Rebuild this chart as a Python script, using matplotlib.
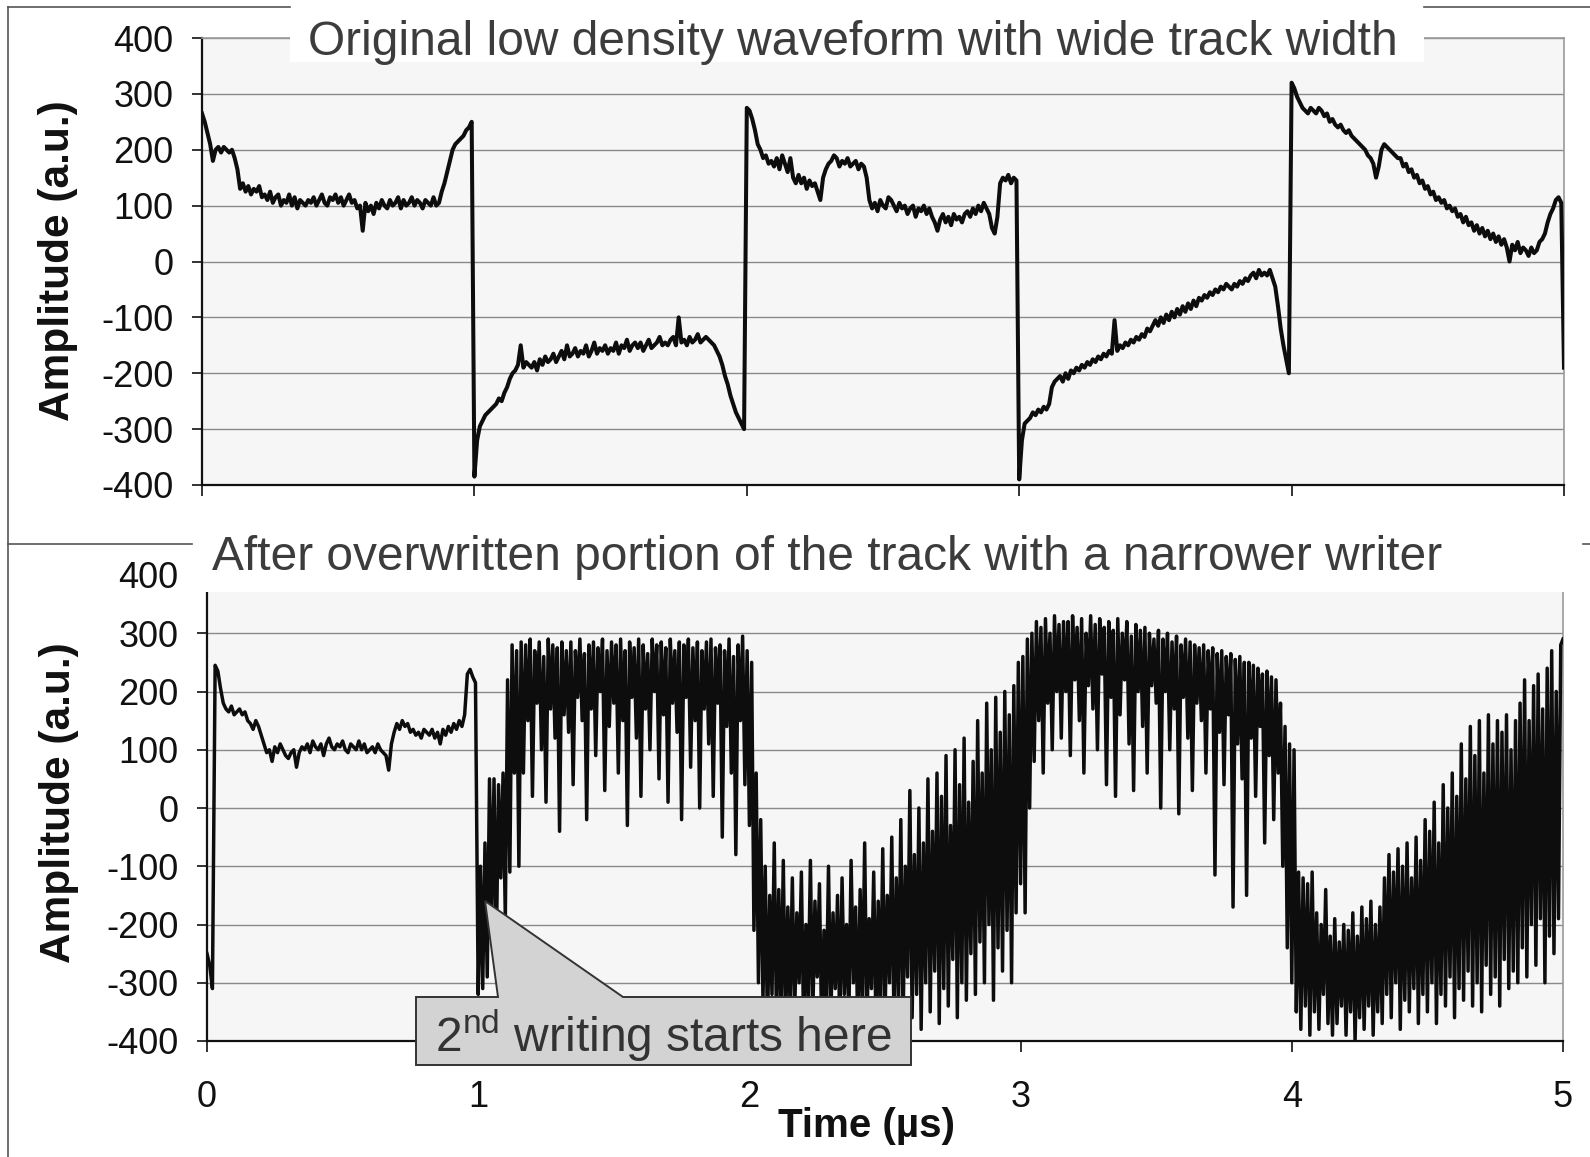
import numpy as np
import matplotlib
matplotlib.use("Agg")
import matplotlib.pyplot as plt
from matplotlib.patches import Rectangle, Polygon
from matplotlib.lines import Line2D

# ---------------- data ----------------
top_title = "Original low density waveform with wide track width"
bottom_title = "After overwritten portion of the track with a narrower writer"
callout_text = r"2$^{\mathrm{nd}}$ writing starts here"
y_label = "Amplitude (a.u.)"
x_label = "Time (\u00b5s)"
y_ticks = [-400, -300, -200, -100, 0, 100, 200, 300, 400]
y_tick_labels = ["-400", "-300", "-200", "-100", "0", "100", "200", "300", "400"]
x_ticks = [0, 1, 2, 3, 4, 5]
x_tick_labels = ["0", "1", "2", "3", "4", "5"]

# original waveform, sampled every 0.01 us from 0 to 5 us
top_wave = [
    265, 250, 230, 210, 180, 200, 205, 195, 205, 200,
    195, 200, 185, 165, 130, 140, 125, 135, 120, 130,
    125, 135, 115, 120, 110, 125, 105, 115, 120, 100,
    110, 105, 120, 100, 115, 95, 110, 105, 100, 110,
    105, 115, 100, 110, 120, 105, 100, 115, 110, 120,
    105, 115, 100, 110, 120, 105, 110, 95, 100, 55,
    105, 90, 100, 85, 105, 95, 110, 100, 95, 110,
    100, 105, 115, 95, 110, 100, 105, 115, 100, 110,
    105, 95, 110, 105, 100, 115, 100, 105, 125, 140,
    160, 180, 200, 210, 215, 220, 225, 235, 240, 250,
    -385, -320, -295, -285, -275, -270, -265, -260, -255, -245,
    -250, -235, -225, -210, -200, -195, -185, -150, -190, -180,
    -185, -190, -180, -195, -175, -185, -170, -180, -175, -165,
    -180, -170, -160, -175, -150, -170, -165, -155, -170, -160,
    -165, -150, -170, -160, -145, -165, -155, -160, -150, -165,
    -155, -160, -145, -165, -150, -155, -140, -160, -150, -145,
    -155, -145, -160, -150, -140, -155, -150, -145, -135, -150,
    -145, -150, -140, -135, -150, -100, -145, -140, -150, -135,
    -145, -140, -130, -145, -140, -135, -140, -145, -150, -160,
    -170, -185, -205, -220, -240, -255, -270, -280, -290, -300,
    275, 270, 255, 235, 210, 200, 185, 190, 175, 180,
    170, 185, 165, 190, 175, 160, 185, 150, 140, 155,
    140, 150, 130, 145, 135, 140, 125, 110, 150, 165,
    175, 180, 190, 185, 170, 180, 175, 185, 170, 175,
    180, 165, 175, 170, 150, 110, 95, 105, 90, 110,
    100, 95, 115, 110, 100, 90, 105, 95, 100, 85,
    95, 100, 80, 95, 90, 100, 85, 95, 80, 70,
    55, 75, 85, 70, 80, 65, 85, 75, 80, 70,
    85, 90, 80, 95, 85, 100, 90, 105, 95, 85,
    60, 50, 80, 140, 150, 145, 155, 140, 150, 145,
    -390, -320, -290, -285, -280, -270, -275, -265, -270, -260,
    -265, -255, -225, -215, -210, -205, -215, -200, -210, -195,
    -200, -190, -195, -185, -190, -180, -185, -175, -180, -170,
    -175, -165, -170, -160, -165, -105, -160, -150, -155, -145,
    -150, -140, -145, -135, -140, -130, -135, -120, -125, -115,
    -105, -115, -100, -110, -95, -105, -90, -100, -85, -95,
    -80, -90, -75, -85, -70, -80, -65, -70, -60, -65,
    -55, -60, -50, -55, -45, -50, -40, -45, -50, -40,
    -45, -35, -40, -30, -35, -25, -20, -30, -15, -25,
    -20, -25, -15, -30, -45, -80, -120, -150, -175, -200,
    320, 310, 295, 285, 275, 270, 265, 275, 270, 265,
    275, 270, 260, 265, 250, 255, 245, 240, 245, 235,
    230, 235, 225, 220, 215, 210, 205, 200, 190, 185,
    175, 150, 170, 200, 210, 205, 200, 195, 190, 185,
    185, 170, 175, 160, 165, 150, 155, 140, 145, 130,
    135, 120, 125, 110, 115, 105, 110, 95, 100, 90,
    95, 80, 85, 70, 80, 65, 70, 55, 65, 50,
    60, 45, 55, 40, 50, 35, 45, 30, 40, 25,
    0, 30, 20, 35, 15, 25, 20, 10, 25, 15,
    20, 35, 40, 50, 70, 85, 95, 110, 115, 105,
    -190,
]

# overwritten track: untouched part, every 0.01 us from 0 to 0.99 us
bottom_early = [
    -250, -270, -310, 245, 235, 205, 180, 170, 165, 175,
    160, 165, 170, 160, 165, 150, 145, 135, 150, 140,
    125, 110, 95, 100, 80, 105, 95, 110, 100, 90,
    85, 95, 100, 70, 95, 105, 100, 110, 95, 115,
    105, 100, 110, 90, 110, 120, 105, 100, 110, 105,
    115, 100, 95, 110, 105, 100, 115, 100, 110, 95,
    100, 105, 95, 110, 100, 95, 90, 65, 110, 130,
    145, 135, 150, 140, 145, 130, 135, 125, 130, 120,
    135, 130, 125, 135, 120, 130, 110, 135, 125, 140,
    130, 145, 135, 150, 140, 160, 230, 238, 225, 215,
]

# overwritten track: second writing, every 1/120 us from 1 to 5 us
bottom_written = [
    -320, -100, -310, -60, -290, 50, -180, 50, -250, 40, -120, 60, -190, 220, -110, 280, 60, 270, -100, 285,
    60, 280, 150, 290, 20, 270, 180, 285, 100, 260, 10, 290, 170, 280, 120, 275, -40, 285, 160, 270,
    130, 285, 40, 270, 190, 290, 150, 265, -20, 280, 170, 285, 90, 275, 200, 290, 30, 270, 140, 285,
    180, 280, 60, 290, 150, 270, -30, 285, 190, 275, 120, 290, 20, 280, 170, 265, 100, 290, 200, 280,
    50, 285, 160, 275, 10, 290, 180, 270, 130, 285, -20, 280, 190, 290, 70, 275, 150, 285, 0, 270,
    170, 285, 110, 290, 20, 275, 180, 280, -50, 270, 140, 290, 60, 260, -80, 280, 150, 295, 40, 270,
    -30, 250, -210, 60, -300, -20, -330, -100, -380, -150, -320, -60, -370, -140, -350, -90, -380, -170, -340, -120,
    -360, -180, -300, -110, -380, -200, -330, -90, -370, -160, -290, -130, -390, -210, -340, -100, -370, -180, -310, -150,
    -380, -120, -320, -200, -360, -90, -300, -170, -390, -140, -340, -60, -370, -190, -310, -110, -380, -160, -350, -70,
    -360, -150, -300, -50, -380, -120, -330, -20, -370, -100, -290, 30, -360, -80, -320, 0, -380, -60, -300, 50,
    -350, -40, -280, 60, -370, 20, -310, 90, -340, -30, -260, 100, -360, 40, -300, 120, -330, 10, -250, 80,
    -320, 150, -230, 60, -300, 180, -200, 100, -330, 190, -240, 130, -280, 200, -210, 160, -300, 210, -180, 250,
    -130, 260, -180, 290, 0, 300, 80, 320, 150, 310, 60, 325, 180, 300, 100, 330, 200, 315, 120, 320,
    200, 320, 90, 330, 220, 310, 150, 325, 60, 300, 210, 330, 170, 315, 100, 325, 230, 310, 40, 320,
    190, 305, 20, 325, 160, 300, 220, 320, 110, 295, 30, 315, 200, 305, 140, 310, 60, 300, 210, 290,
    180, 305, 0, 290, 200, 300, 100, 285, 170, 295, -10, 280, 190, 290, 120, 285, 30, 280, 180, 275,
    150, 280, 60, 270, 170, 275, -115, 265, 130, 270, 40, 260, 160, 265, -170, 255, 110, 260, 50, 250,
    -150, 250, 120, 245, 20, 240, 140, 230, -60, 235, 90, 225, -20, 220, 60, 180, -100, 140, -240, 110,
    -300, 100, -350, -110, -380, -120, -340, -130, -390, -110, -350, -180, -380, -200, -320, -140, -370, -220, -390, -190,
    -370, -230, -340, -200, -390, -210, -350, -180, -400, -220, -360, -170, -380, -190, -340, -160, -390, -200, -350, -170,
    -370, -120, -320, -80, -360, -110, -300, -70, -380, -100, -330, -60, -350, -120, -310, -50, -370, -90, -320, -20,
    -350, -40, -300, 10, -370, -60, -320, 40, -340, 0, -290, 60, -360, 20, -310, 110, -330, 50, -280, 140,
    -340, 90, -300, 150, -350, 60, -270, 160, -320, 110, -290, 150, -340, 130, -260, 160, -310, 100, -280, 150,
    -300, 180, -240, 220, -290, 150, -200, 210, -270, 230, -190, 170, -300, 240, -220, 270, -250, 200, -190, 280,
    290,
]

# ---------------- figure ----------------
plt.rcParams["font.family"] = ["Liberation Sans", "DejaVu Sans"]
plt.rcParams["mathtext.fontset"] = "custom"
plt.rcParams["mathtext.rm"] = "Liberation Sans"
plt.rcParams["axes.unicode_minus"] = False

W, H = 1590, 1157
fig = plt.figure(figsize=(W / 100, H / 100), dpi=100)


def fx(px):
    return px / W


def fy(py):
    return 1 - py / H


ax1 = fig.add_axes([fx(202), fy(485), fx(1564) - fx(202), fy(38) - fy(485)])
ax2 = fig.add_axes([fx(207), fy(1041), fx(1563) - fx(207), fy(575) - fy(1041)])

for ax in (ax1, ax2):
    ax.set_xlim(0, 5)
    ax.set_ylim(-400, 400)
    ax.set_facecolor("#f6f6f6")
    ax.set_yticks(y_ticks)
    ax.set_yticklabels(y_tick_labels)
    ax.set_xticks(x_ticks)
    ax.grid(axis="y", color="#8a8a8a", lw=1.0)
    ax.set_axisbelow(True)
    for s in ("top", "right"):
        ax.spines[s].set_color("#9a9a9a")
        ax.spines[s].set_linewidth(1.2)
    for s in ("left", "bottom"):
        ax.spines[s].set_color("#111111")
        ax.spines[s].set_linewidth(1.6)
    ax.tick_params(axis="y", length=7.5, width=1.2, pad=13, labelsize=26,
                   direction="out", colors="#111111")
    ax.tick_params(axis="x", length=8, width=1.2, pad=20, labelsize=26,
                   direction="out", colors="#111111")

ax1.set_xticklabels([])
ax2.set_xticklabels(x_tick_labels)

t_top = np.linspace(0, 5, len(top_wave))
ax1.plot(t_top, top_wave, color="#0d0d0d", lw=2.9, zorder=3,
         solid_joinstyle="round")

t_early = np.linspace(0, 0.99, len(bottom_early))
t_written = np.linspace(1.0, 5.0, len(bottom_written))
ax2.plot(np.concatenate([t_early, t_written]),
         np.concatenate([bottom_early, bottom_written]),
         color="#0d0d0d", lw=2.5, zorder=3, solid_joinstyle="round")

# white title backgrounds covering the plot top
fig.add_artist(Rectangle((fx(290), fy(62)), fx(1424) - fx(290), fy(0) - fy(62),
                         transform=fig.transFigure, facecolor="white",
                         edgecolor="none", zorder=5))
fig.add_artist(Rectangle((fx(192), fy(592)), fx(1583) - fx(192), fy(538) - fy(592),
                         transform=fig.transFigure, facecolor="white",
                         edgecolor="none", zorder=5))

# chart frames
frame_kw = dict(transform=fig.transFigure, color="#555555", lw=1.2, zorder=6)
fig.add_artist(Line2D([fx(8), fx(290)], [fy(7), fy(7)], **frame_kw))
fig.add_artist(Line2D([fx(1424), 1], [fy(7), fy(7)], **frame_kw))
fig.add_artist(Line2D([fx(8), fx(8)], [fy(7), 0], **frame_kw))
fig.add_artist(Line2D([fx(8), fx(192)], [fy(544), fy(544)], **frame_kw))
fig.add_artist(Line2D([fx(1583), 1], [fy(544), fy(544)], **frame_kw))

# titles
fig.text(fx(853), fy(55), top_title, ha="center", va="baseline",
         fontsize=34.5, color="#3c3c3c", zorder=7)
fig.text(fx(827), fy(570), bottom_title, ha="center", va="baseline",
         fontsize=34.5, color="#3c3c3c", zorder=7)

# axis labels
fig.text(fx(58), fy(261), y_label, rotation=90, ha="center", va="center",
         fontsize=30.5, fontweight="bold", color="#111111")
fig.text(fx(59), fy(803), y_label, rotation=90, ha="center", va="center",
         fontsize=30.5, fontweight="bold", color="#111111")
fig.text(fx(867), fy(1137), x_label, ha="center", va="baseline",
         fontsize=29, fontweight="bold", color="#111111")

# callout
callout_px = [(416, 997), (498, 997), (485, 901), (623, 997), (911, 997),
              (911, 1065), (416, 1065)]
fig.add_artist(Polygon([(fx(x), fy(y)) for x, y in callout_px], closed=True,
                       transform=fig.transFigure, facecolor="#d3d3d3",
                       edgecolor="#333333", lw=1.4, zorder=8))
fig.text(fx(663), fy(1052), callout_text, ha="center", va="baseline",
         fontsize=34.5, color="#333333", zorder=9)

fig.savefig("out.png", dpi=100)
